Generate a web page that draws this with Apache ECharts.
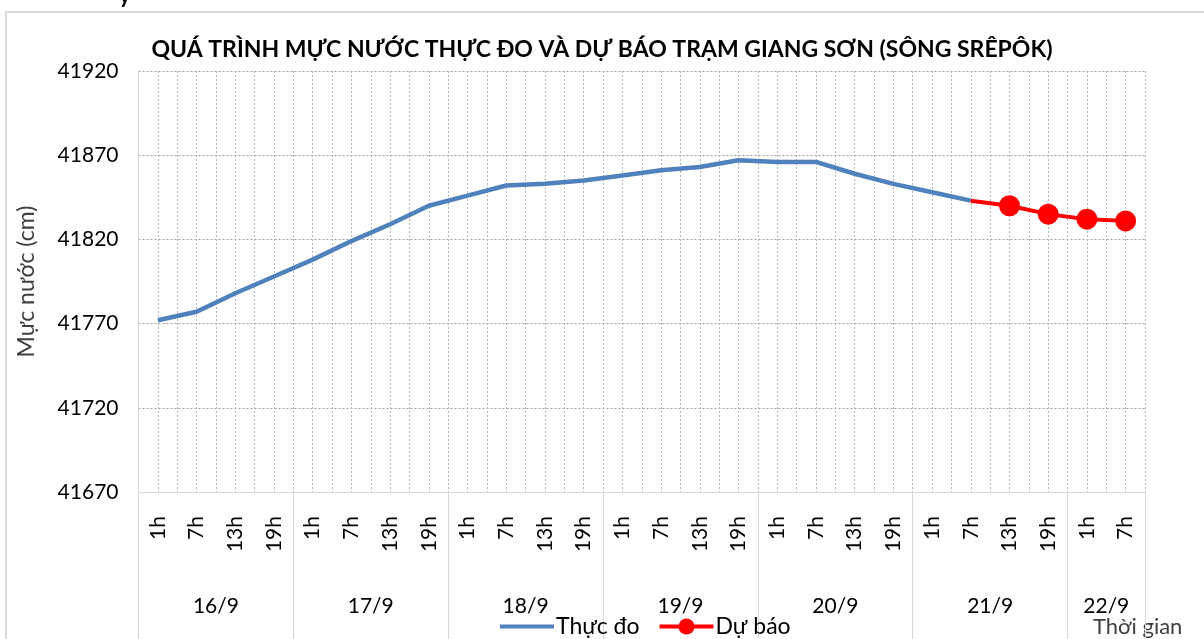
<!DOCTYPE html>
<html>
<head>
<meta charset="utf-8">
<script src="https://cdn.jsdelivr.net/npm/echarts@6/dist/echarts.min.js"></script>
<style>
html,body{margin:0;padding:0;background:#fff;}
#chart{width:1204px;height:639px;}
</style>
</head>
<body>
<div id="chart"></div>
<script>
var hourLabels = ['1h','7h','13h','19h','1h','7h','13h','19h','1h','7h','13h','19h','1h','7h','13h','19h','1h','7h','13h','19h','1h','7h','13h','19h','1h','7h'];
var dayLabels = ['16/9','17/9','18/9','19/9','20/9','21/9','22/9'];
var hoursPerDay = [4,4,4,4,4,4,2];
var observed = [41772,41777,41788,41798,41808,41819,41829,41840,41846,41852,41853,41855,41858,41861,41863,41867,41866,41866,41859,41853,41848,41843];
var forecast = [41843,41840,41835,41832,41831];
var forecastStart = 21;
var yTicks = [41670,41720,41770,41820,41870,41920];

var FONT = 'Lato, "Noto Sans", sans-serif';

// half-category positions for day divider / day label axis
var halfPos = [];
var dayLabelAt = {};
var dividerAt = {0:true};
var acc = 0;
for (var d = 0; d < dayLabels.length; d++) {
  dayLabelAt[2*acc + hoursPerDay[d]] = dayLabels[d];
  acc += hoursPerDay[d];
  dividerAt[2*acc] = true;
}
for (var k = 0; k <= 2*hourLabels.length; k++) halfPos.push(String(k));

var forecastData = [];
for (var i = 0; i < hourLabels.length; i++) forecastData.push(null);
for (var j = 0; j < forecast.length; j++) {
  forecastData[forecastStart + j] = (j === 0) ? {value: forecast[j], symbol: 'none'} : forecast[j];
}

var chart = echarts.init(document.getElementById('chart'));
chart.setOption({
  animation: false,
  backgroundColor: '#fff',
  title: {
    text: 'QUÁ TRÌNH MỰC NƯỚC THỰC ĐO VÀ DỰ BÁO TRẠM GIANG SƠN (SÔNG SRÊPÔK)',
    left: 'center', top: 33,
    textStyle: {fontFamily: FONT, fontSize: 23, fontWeight: 'bold', color: '#000'}
  },
  graphic: [
    {type: 'rect', shape: {x: 6, y: 12, width: 1400, height: 800}, style: {fill: 'none', stroke: '#d9d9d9', lineWidth: 2}, z: -10},
    {type: 'text', left: 1093, top: 616, style: {text: 'Thời gian', font: '22px ' + FONT, fill: '#404040'}},
    {type: 'text', left: 119, top: -15, style: {text: 'y', font: 'bold 22px ' + FONT, fill: '#000'}}
  ],
  legend: {
    left: 493, top: 610,
    itemWidth: 54, itemHeight: 20, itemGap: 18,
    lineStyle: {width: 4},
    textStyle: {fontFamily: FONT, fontSize: 23, color: '#000', padding: [0,0,0,-3]},
    data: [{name: 'Thực đo', itemStyle: {opacity: 0}}, 'Dự báo']
  },
  grid: {left: 138.5, right: 59, top: 71, bottom: 147},
  xAxis: [
    {
      type: 'category', data: hourLabels, boundaryGap: true, position: 'bottom',
      axisLine: {show: true, lineStyle: {color: '#d9d9d9', width: 1}},
      axisTick: {show: false},
      splitLine: {show: false},
      axisLabel: {interval: 0, rotate: 90, margin: 24, fontFamily: FONT, fontSize: 21, color: '#000'}
    },
    {
      type: 'category', data: halfPos, boundaryGap: false, position: 'bottom',
      axisLine: {show: false},
      axisTick: {show: true, length: 150, interval: function (idx) { return !!dividerAt[idx]; }, lineStyle: {color: '#d9d9d9', width: 1}},
      splitLine: {show: true, interval: 0, lineStyle: {color: '#b4b4b4', type: [2, 2], width: 1}},
      axisLabel: {
        interval: function (idx) { return dayLabelAt[idx] !== undefined; },
        margin: 104, fontFamily: FONT, fontSize: 21, color: '#000',
        formatter: function (v, idx) { return dayLabelAt[idx] || ''; }
      }
    }
  ],
  yAxis: {
    type: 'value', min: yTicks[0], max: yTicks[yTicks.length - 1], interval: 50,
    name: 'Mực nước (cm)', nameLocation: 'middle', nameRotate: 90, nameGap: 100,
    nameTextStyle: {fontFamily: FONT, fontSize: 23, color: '#404040'},
    axisLine: {show: true, lineStyle: {color: '#d9d9d9', width: 1}},
    axisTick: {show: false},
    axisLabel: {margin: 20, fontFamily: FONT, fontSize: 21, color: '#000', formatter: function (v) { return String(v); }},
    splitLine: {show: true, lineStyle: {color: '#a0a0a0', type: [2, 2], width: 1}}
  },
  series: [
    {
      name: 'Thực đo', type: 'line', xAxisIndex: 0, data: observed,
      symbol: 'none', lineStyle: {color: '#4F81BD', width: 4.5}, itemStyle: {color: '#4F81BD'}, z: 3
    },
    {
      name: 'Dự báo', type: 'line', xAxisIndex: 0, data: forecastData,
      symbol: 'circle', symbolSize: 21, lineStyle: {color: '#FF0000', width: 4}, itemStyle: {color: '#FF0000'}, z: 4
    }
  ]
});
</script>
</body>
</html>
